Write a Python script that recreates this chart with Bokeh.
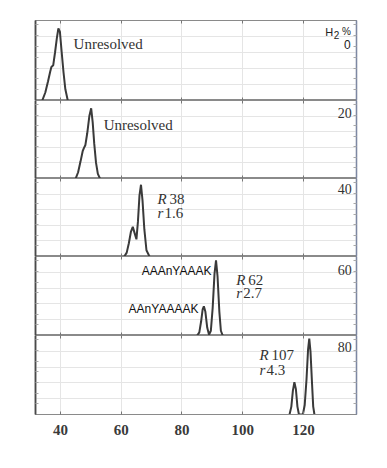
from bokeh.plotting import figure
from bokeh.layouts import column
from bokeh.models import Range1d, LinearAxis, FixedTicker
from bokeh.core.properties import value
from bokeh.embed import file_html
from bokeh.resources import INLINE

# ---- data ----
h2_levels = ["0", "20", "40", "60", "80"]
x_ticks = [40, 60, 80, 100, 120]

x0 = [34.0, 35.0, 35.9, 36.6, 37.0, 37.6, 38.2, 38.8, 39.3, 39.8, 40.4, 41.0, 41.6, 42.4]
y0 = [0.0, 0.10, 0.24, 0.36, 0.42, 0.44, 0.60, 0.78, 0.90, 0.86, 0.60, 0.35, 0.14, 0.0]

x20 = [45.0, 45.8, 46.6, 47.3, 47.7, 48.2, 48.8, 49.5, 50.1, 50.6, 51.1, 51.7, 52.3, 53.0]
y20 = [0.0, 0.08, 0.22, 0.35, 0.39, 0.43, 0.58, 0.80, 0.90, 0.72, 0.45, 0.20, 0.06, 0.0]

x40 = [61.0, 61.8, 62.5, 63.2, 63.8, 64.4, 65.0, 65.5, 66.0, 66.5, 67.0, 67.6, 68.3, 69.3]
y40 = [0.0, 0.05, 0.17, 0.32, 0.38, 0.30, 0.22, 0.45, 0.78, 0.92, 0.72, 0.35, 0.08, 0.0]

x60 = [85.0, 85.7, 86.3, 86.8, 87.2, 87.7, 88.3, 88.9, 89.5, 90.1, 90.7, 91.2, 91.7, 92.3, 92.8, 93.4]
y60 = [0.0, 0.04, 0.18, 0.33, 0.37, 0.30, 0.10, 0.01, 0.06, 0.35, 0.78, 0.95, 0.75, 0.30, 0.06, 0.0]

x80 = [115.4, 116.0, 116.5, 117.0, 117.5, 118.0, 118.5, 119.8, 120.4, 121.0, 121.5, 121.9, 122.3, 122.8, 123.2, 123.6]
y80 = [0.0, 0.10, 0.30, 0.41, 0.32, 0.10, 0.0, 0.0, 0.12, 0.45, 0.82, 0.96, 0.80, 0.40, 0.10, 0.0]

traces_x = [x0, x20, x40, x60, x80]
traces_y = [y0, y20, y40, y60, y80]

R_values = ["38", "62", "107"]
r_values = ["1.6", "2.7", "4.3"]
peptides = ["AAAnYAAAK", "AAnYAAAAK"]
unresolved = "Unresolved"

# ---- layout ----
SERIF = "Liberation Serif"
SANS = "Liberation Sans"
INK = "#333333"
x_range = Range1d(31.77, 137.45)


def hide_labels(ax):
    ax.major_label_text_font_size = "0px"
    ax.major_label_text_color = None
    ax.major_label_standoff = 0


frame_heights = [80, 78, 78, 79, 79]
figs = []
for i, fh in enumerate(frame_heights):
    top = 20 if i == 0 else 0
    bottom = 54 if i == 4 else 0
    p = figure(width=387, height=fh + top + bottom, x_range=x_range,
               y_range=Range1d(0, 1), output_backend="svg", toolbar_location=None,
               x_axis_location=None, y_axis_location=None,
               min_border_left=35, min_border_right=31,
               min_border_top=top, min_border_bottom=bottom)
    p.outline_line_color = "#8a8a8a"
    p.outline_line_width = 1.2
    p.background_fill_color = "white"
    p.border_fill_color = "white"

    # bottom axis (labels only on last panel)
    xb = LinearAxis(ticker=FixedTicker(ticks=x_ticks))
    xb.major_tick_in = 3
    xb.major_tick_out = 0
    xb.minor_tick_line_color = None
    xb.major_tick_line_color = "#777777"
    xb.axis_line_color = "#8a8a8a"
    if i == 4:
        xb.major_label_text_font = SERIF
        xb.major_label_text_font_size = "15px"
        xb.major_label_text_font_style = "bold"
        xb.major_label_text_color = "#3a3a3a"
        xb.major_label_standoff = 10
    else:
        hide_labels(xb)
    p.add_layout(xb, "below")

    # top axis (ticks only)
    xt = LinearAxis(ticker=FixedTicker(ticks=x_ticks))
    xt.major_tick_in = 3
    xt.major_tick_out = 0
    xt.minor_tick_line_color = None
    xt.major_tick_line_color = "#777777"
    xt.axis_line_color = "#8a8a8a"
    hide_labels(xt)
    p.add_layout(xt, "above")

    # left / right axes (small inward ticks)
    for side, col, lw in (("left", "#4a4a4a", 1.8), ("right", "#7d88a3", 1.4)):
        ya = LinearAxis(ticker=FixedTicker(ticks=[0.135, 0.27, 0.405, 0.54, 0.675, 0.81, 0.945]))
        ya.major_tick_in = 3
        ya.major_tick_out = 0
        ya.minor_tick_line_color = None
        ya.major_tick_line_color = "#a8a8a8"
        ya.axis_line_color = col
        ya.axis_line_width = lw
        hide_labels(ya)
        p.add_layout(ya, side)

    p.line(traces_x[i], traces_y[i], line_color="#3a3a3a", line_width=2)
    figs.append(p)

# ---- annotations ----
f0, f20, f40, f60, f80 = figs

f0.text([44.3], [0.71], text=[unresolved], text_font=value(SERIF),
        text_font_size="15px", text_color=INK, text_baseline="middle")
f20.text([54.2], [0.68], text=[unresolved], text_font=value(SERIF),
         text_font_size="15px", text_color=INK, text_baseline="middle")

# H2 % header and levels
f0.text([127.2], [0.86], text=["H"], text_font=value(SANS), text_font_size="11px",
        text_color="#222222", text_baseline="middle")
f0.text([130.0], [0.825], text=["2"], text_font=value(SANS), text_font_size="10px",
        text_color="#222222", text_baseline="middle")
f0.text([132.7], [0.86], text=["%"], text_font=value(SANS), text_font_size="10px",
        text_color="#222222", text_baseline="middle")
f0.text([135.5], [0.70], text=[h2_levels[0]], text_font=value(SANS), text_font_size="12px",
        text_color="#222222", text_baseline="middle", text_align="right")
for fig, lab, yy in ((f20, h2_levels[1], 0.84), (f40, h2_levels[2], 0.865),
                     (f60, h2_levels[3], 0.835), (f80, h2_levels[4], 0.85)):
    fig.text([135.9], [yy], text=[lab], text_font=value(SERIF), text_font_size="14px",
             text_color=INK, text_baseline="middle", text_align="right")

# R / r annotations
for fig, xx, yR, yr, Rv, rv in ((f40, 71.9, 0.74, 0.56, R_values[0], r_values[0]),
                                (f60, 97.9, 0.70, 0.54, R_values[1], r_values[1]),
                                (f80, 105.5, 0.75, 0.56, R_values[2], r_values[2])):
    fig.text([xx], [yR], text=["R"], text_font=value(SERIF), text_font_style="italic",
             text_font_size="15px", text_color=INK, text_baseline="middle")
    fig.text([xx], [yR], text=[Rv], text_font=value(SERIF), x_offset=12,
             text_font_size="15px", text_color=INK, text_baseline="middle")
    fig.text([xx], [yr], text=["r"], text_font=value(SERIF), text_font_style="italic",
             text_font_size="15px", text_color=INK, text_baseline="middle")
    fig.text([xx], [yr], text=[rv], text_font=value(SERIF), x_offset=7,
             text_font_size="15px", text_color=INK, text_baseline="middle")

# peptide labels
f60.text([89.7], [0.82], text=[peptides[0]], text_font=value(SANS), text_font_size="12px",
         text_color="#111111", text_baseline="middle", text_align="right")
f60.text([85.4], [0.34], text=[peptides[1]], text_font=value(SANS), text_font_size="12px",
         text_color="#111111", text_baseline="middle", text_align="right")

layout = column(*figs, spacing=0)
open("out.html", "w").write(file_html(layout, INLINE))
